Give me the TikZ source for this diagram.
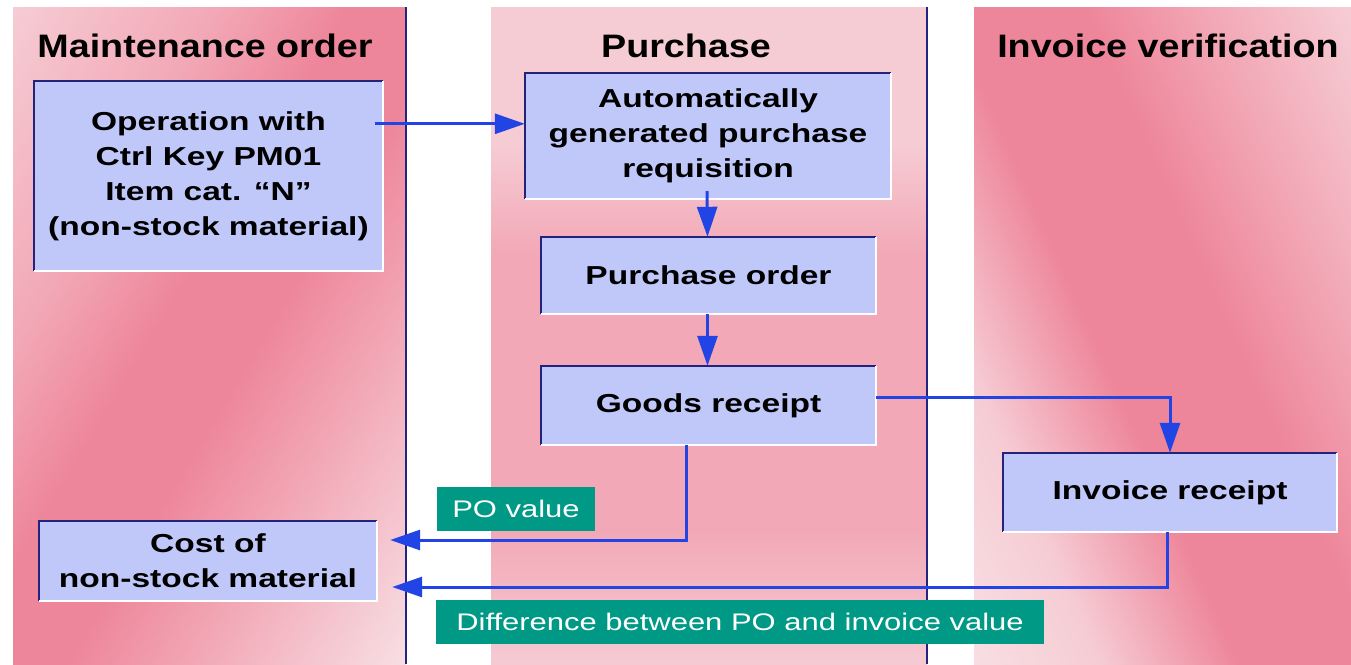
\documentclass[tikz,border=0pt]{standalone}
\usepackage{fontspec}
\setmainfont{Liberation Sans}
\newfontfamily\headfont[FakeStretch=1.16]{Liberation Sans}
\newfontfamily\boxfont[FakeStretch=1.29]{Liberation Sans}
\usetikzlibrary{arrows.meta,calc}

% colours
\definecolor{pkdark}{RGB}{238,134,155}
\definecolor{pkmid}{RGB}{242,168,182}
\definecolor{pklight}{RGB}{246,204,212}
\definecolor{pkpale}{RGB}{247,222,227}
\definecolor{boxfill}{RGB}{192,200,250}
\definecolor{edgedark}{RGB}{35,35,125}
\definecolor{laneblue}{RGB}{35,35,130}
\definecolor{flowblue}{RGB}{35,68,228}
\definecolor{tagteal}{RGB}{0,153,133}

% lane backgrounds
\pgfdeclarehorizontalshading{laneone}{100bp}{%
  color(0bp)=(pklight); color(29bp)=(pklight); color(40bp)=(pkmid);
  color(47bp)=(pkdark); color(53bp)=(pkdark); color(60bp)=(pkmid);
  color(71bp)=(pkpale); color(100bp)=(pkpale)}
\pgfdeclarehorizontalshading{lanetwo}{100bp}{%
  color(0bp)=(pklight); color(30bp)=(pklight); color(38bp)=(pklight);
  color(45bp)=(pkmid); color(54bp)=(pkmid); color(62bp)=(pkmid);
  color(71bp)=(pklight); color(100bp)=(pklight)}
\pgfdeclarehorizontalshading{lanethree}{100bp}{%
  color(0bp)=(pkpale); color(31bp)=(pkpale); color(38bp)=(pklight);
  color(46bp)=(pkdark); color(54bp)=(pkdark); color(61bp)=(pkmid);
  color(69bp)=(pklight); color(100bp)=(pklight)}

\newcommand\bevel[1]{%
  \draw[darkedge] (#1.south west) -- (#1.north west) -- (#1.north east);
  \draw[lightedge] (#1.north east) -- (#1.south east) -- (#1.south west);}

\begin{document}
\begin{tikzpicture}[x=1pt,y=-1pt,
  head/.style={anchor=base, inner sep=0pt, text=black,
    font=\headfont\fontsize{32.5}{39}\selectfont\bfseries},
  procbox/.style={fill=boxfill, inner sep=0pt, align=center, text=black,
    font=\boxfont\fontsize{26}{35}\selectfont\bfseries},
  tag/.style={fill=tagteal, inner sep=0pt, text=white, minimum height=44pt,
    font=\boxfont\fontsize{24}{30}\selectfont},
  darkedge/.style={draw=edgedark, line width=2pt},
  lightedge/.style={draw=white, line width=2pt},
  laneline/.style={draw=laneblue, line width=1.6pt},
  flow/.style={draw=flowblue, line width=3pt,
    -{Triangle[length=30pt,width=20pt]}}]

\useasboundingbox (0,0) rectangle (1351,664);
\fill[white] (0,0) rectangle (1351,664);

% swimlanes
\begin{scope}
  \clip (13,7) rectangle (406,664);
  \shade[shading=laneone, shading angle=-31] (-192,-65) rectangle (608,735);
\end{scope}
\begin{scope}
  \clip (491,7) rectangle (927,664);
  \shade[shading=lanetwo, shading angle=-90] (309,-65) rectangle (1109,735);
\end{scope}
\begin{scope}
  \clip (974,7) rectangle (1351,664);
  \shade[shading=lanethree, shading angle=24] (762,-65) rectangle (1562,735);
\end{scope}
\draw[laneline] (406,7) -- (406,664);
\draw[laneline] (927,7) -- (927,664);

% lane titles
\node[head] (h1) at (205,57) {Maintenance order};
\node[head] (h2) at (686,57) {Purchase};
\node[head] (h3) at (1168,57) {Invoice verification};

% process steps
\node[procbox, minimum width=349pt, minimum height=190pt] (op) at (208.5,176)
  {Operation with\\Ctrl Key PM01\\Item cat. “N”\\(non-stock material)};
\node[procbox, minimum width=366pt, minimum height=126pt] (req) at (708,136)
  {Automatically\\generated purchase\\requisition};
\node[procbox, minimum width=335pt, minimum height=77pt] (po) at (708.5,275.5)
  {Purchase order};
\node[procbox, minimum width=335pt, minimum height=79pt] (gr) at (708.5,405.5)
  {Goods receipt};
\node[procbox, minimum width=334pt, minimum height=79pt] (ir) at (1170,492.5)
  {Invoice receipt};
\node[procbox, minimum width=338pt, minimum height=80pt] (cost) at (208,561)
  {Cost of\\non-stock material};
\foreach \n in {op,req,po,gr,ir,cost} {\bevel{\n}}

% value labels
\node[tag, minimum width=158pt] (tpo) at (516,509) {PO value};
\node[tag, minimum width=608pt] (tdiff) at (740,622)
  {Difference between PO and invoice value};

% document flow
\draw[flow] ([shift={(-8,43)}]op.north east) coordinate (a1) -- (a1 -| req.west);
\draw[flow] ([shift={(-1,-8)}]req.south) -- ([xshift=-1pt]po.north);
\draw[flow] ([xshift=-1pt]po.south) -- ([xshift=-1pt]gr.north);
\draw[flow] ([shift={(0,-8.5)}]gr.east) -| (ir.north);
\draw[flow] ([xshift=-22.5pt]gr.south) |- ([shift={(13,-21)}]cost.east);
\draw[flow] ([xshift=-3pt]ir.south) |- ([shift={(15,26)}]cost.east);
\end{tikzpicture}
\end{document}
